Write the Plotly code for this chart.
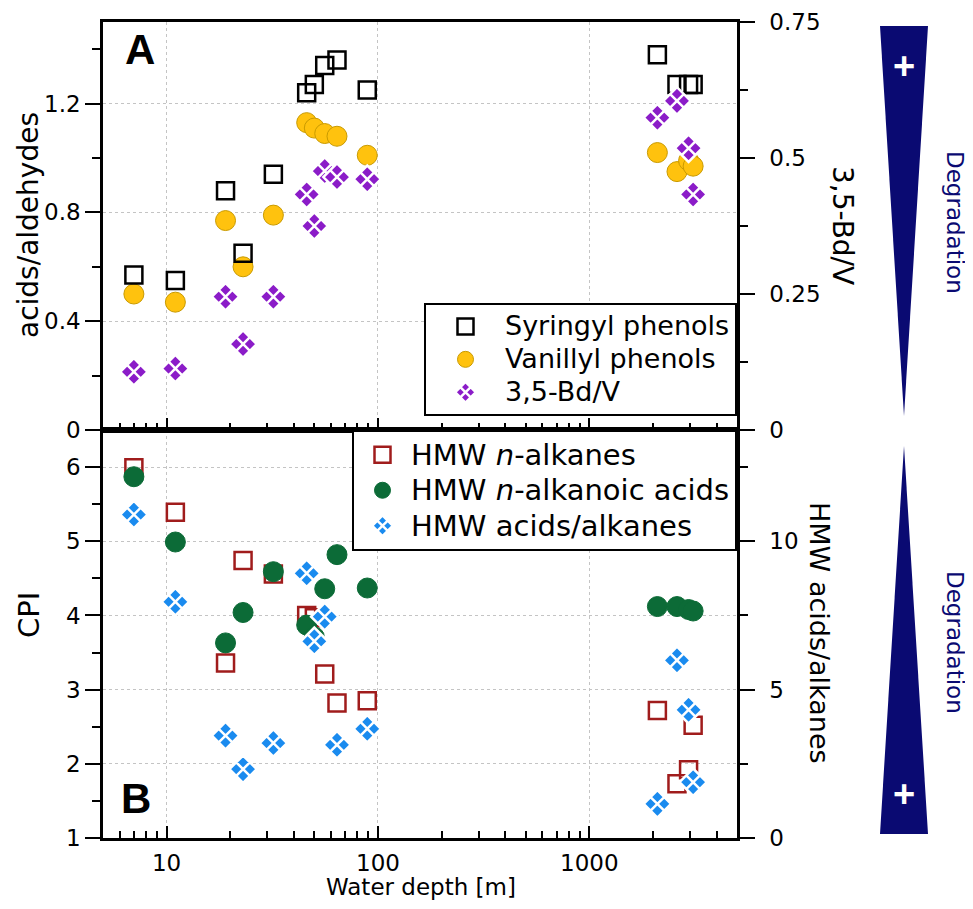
import plotly.graph_objects as go
import numpy as np

# ---------------- data ----------------
depth = [7, 11, 19, 23, 32, 46, 50, 56, 64, 89, 2100, 2600, 2950, 3100]

syringyl = [0.57, 0.55, 0.88, 0.65, 0.94, 1.24, 1.27, 1.34, 1.36, 1.25, 1.38, 1.27, 1.27, 1.27]
vanillyl = [0.50, 0.47, 0.77, 0.60, 0.79, 1.13, 1.11, 1.09, 1.08, 1.01, 1.02, 0.95, 0.99, 0.97]
bdv = [0.107, 0.113, 0.245, 0.158, 0.245, 0.433, 0.375, 0.476, 0.465, 0.461, 0.574, 0.605, 0.518, 0.433]

alkanes_cpi = [5.99, 5.39, 3.36, 4.74, 4.56, 4.00, 3.97, 3.21, 2.82, 2.85, 2.72, 1.73, 1.92, 2.52]
acids_cpi = [5.87, 4.99, 3.63, 4.04, 4.59, 3.87, 3.71, 4.36, 4.82, 4.37, 4.12, 4.12, 4.08, 4.06]
acids_alkanes = [10.9, 7.96, 3.45, 2.32, 3.20, 8.92, 6.63, 7.46, 3.14, 3.68, 1.15, 5.99, 4.32, 1.88]

series_names = ["Syringyl phenols", "Vanillyl phenols", "3,5-Bd/V",
                "HMW <i>n</i>-alkanes", "HMW <i>n</i>-alkanoic acids", "HMW acids/alkanes"]

x_tickvals = [10, 100, 1000]
x_ticktext = ["10", "100", "1000"]
x_minor = [m * 10 ** k for k in range(0, 4) for m in range(2, 10) if 5 <= m * 10 ** k <= 5000]

# ---------------- style ----------------
FONT = "DejaVu Sans"
BOLDFONT = "Liberation Sans"
BLACK = "#000000"
YELLOW = "#FFC20E"
PURPLE = "#8B1CC8"
RED = "#A01C1C"
GREEN = "#0C6B37"
BLUE = "#1A8BEF"
NAVY = "#0A0A72"
GRID = "#c4c4c4"

OFF = 8  # page body margin of the html page
W, H = 973 - OFF, 909 - OFF
L, R, T, B = 103 - OFF, 737 - OFF, 22 - OFF, 838 - OFF


def px(x):
    # screen pixel x -> paper coordinate
    return (x - OFF - L) / (R - L)


def py(y):
    # screen pixel y -> paper coordinate
    return (B - (y - OFF)) / (B - T)


def legname(s, size):
    return f'<span style="font-size:{size}px">{s}</span>'


fig = go.Figure()

# ---- top panel ----
fig.add_trace(go.Scatter(x=depth, y=vanillyl, mode="markers", name=legname(series_names[1], 27),
                         xaxis="x2", yaxis="y3", legend="legend", legendrank=2,
                         marker=dict(symbol="circle", size=20, color=YELLOW,
                                     line=dict(color="#C99A00", width=1))))
fig.add_trace(go.Scatter(x=depth, y=bdv, mode="markers", name=legname(series_names[2], 27),
                         xaxis="x2", yaxis="y4", legend="legend", legendrank=3,
                         marker=dict(symbol="diamond-x", size=21, color=PURPLE,
                                     line=dict(color="white", width=2.5))))
fig.add_trace(go.Scatter(x=depth, y=syringyl, mode="markers", name=legname(series_names[0], 27),
                         xaxis="x2", yaxis="y3", legend="legend", legendrank=1,
                         marker=dict(symbol="square-open", size=17, color=BLACK,
                                     line=dict(color=BLACK, width=2.5))))

# ---- bottom panel ----
fig.add_trace(go.Scatter(x=depth, y=alkanes_cpi, mode="markers", name=legname(series_names[3], 29),
                         xaxis="x", yaxis="y", legend="legend2", legendrank=1,
                         marker=dict(symbol="square-open", size=17, color=RED,
                                     line=dict(color=RED, width=2.5))))
fig.add_trace(go.Scatter(x=depth, y=acids_alkanes, mode="markers", name=legname(series_names[5], 29),
                         xaxis="x", yaxis="y2", legend="legend2", legendrank=3,
                         marker=dict(symbol="diamond-x", size=21, color=BLUE,
                                     line=dict(color="white", width=2.5))))
fig.add_trace(go.Scatter(x=depth, y=acids_cpi, mode="markers", name=legname(series_names[4], 29),
                         xaxis="x", yaxis="y", legend="legend2", legendrank=2,
                         marker=dict(symbol="circle", size=20, color=GREEN,
                                     line=dict(color=GREEN, width=1))))

tickfont = dict(family=FONT, size=23, color=BLACK)
xcommon = dict(type="log", range=[np.log10(5), np.log10(5000)],
               tickmode="array", tickvals=x_tickvals, ticktext=x_ticktext,
               ticks="inside", ticklen=12, tickwidth=2, tickcolor=BLACK,
               minor=dict(tickmode="array", tickvals=x_minor, ticks="inside", ticklen=7,
                          tickwidth=2, tickcolor=BLACK, showgrid=False),
               showline=True, linewidth=2.5, linecolor=BLACK, mirror=True,
               showgrid=True, gridcolor=GRID, griddash="dot", gridwidth=1,
               zeroline=False, tickfont=tickfont, automargin=False)

ycommon = dict(ticks="outside", ticklen=15, tickwidth=2, tickcolor=BLACK,
               showline=True, linewidth=2.5, linecolor=BLACK,
               zeroline=False, tickfont=tickfont, automargin=False)

fig.update_layout(
    width=W, height=H,
    margin=dict(l=L, r=W - R, t=T, b=H - B, autoexpand=False),
    paper_bgcolor="white", plot_bgcolor="white",
    font=dict(family=FONT, color=BLACK),
    xaxis=dict(**xcommon, anchor="y", domain=[0, 1], ticklabelstandoff=3),
    xaxis2=dict(**xcommon, anchor="y3", domain=[0, 1], matches="x", showticklabels=False),
    yaxis=dict(**ycommon, domain=[0, 0.5], range=[1, 6.5], anchor="x",
               tickmode="array", tickvals=[1, 2, 3, 4, 5, 6], mirror=False,
               minor=dict(tickmode="array", tickvals=[1.5, 2.5, 3.5, 4.5, 5.5],
                          ticks="outside", ticklen=8, tickwidth=2, tickcolor=BLACK, showgrid=False),
               showgrid=True, gridcolor=GRID, griddash="dot"),
    yaxis2=dict(**ycommon, range=[0, 13.75], overlaying="y", side="right", anchor="x",
                tickmode="array", tickvals=[0, 5, 10], showgrid=False, ticklabelstandoff=10,
                minor=dict(tickmode="array", tickvals=[2.5, 7.5, 12.5],
                           ticks="outside", ticklen=8, tickwidth=2, tickcolor=BLACK)),
    yaxis3=dict(**ycommon, domain=[0.5, 1], range=[0, 1.5], anchor="x2",
                tickmode="array", tickvals=[0, 0.4, 0.8, 1.2], mirror=False,
                minor=dict(tickmode="array", tickvals=[0.2, 0.6, 1.0, 1.4],
                           ticks="outside", ticklen=8, tickwidth=2, tickcolor=BLACK, showgrid=False),
                showgrid=True, gridcolor=GRID, griddash="dot"),
    yaxis4=dict(**ycommon, range=[0, 0.75], overlaying="y3", side="right", anchor="x2",
                tickmode="array", tickvals=[0, 0.25, 0.5, 0.75], ticktext=["0", "0.25", "0.5", "0.75"],
                showgrid=False, ticklabelstandoff=10,
                minor=dict(tickmode="array", tickvals=[0.125, 0.375, 0.625],
                           ticks="outside", ticklen=8, tickwidth=2, tickcolor=BLACK)),
    legend=dict(x=1, xanchor="right", y=py(416), yanchor="bottom",
                bgcolor="white", bordercolor=BLACK, borderwidth=2,
                font=dict(family=FONT, size=23, color=BLACK),
                itemsizing="trace", itemwidth=69, tracegroupgap=0),
    legend2=dict(x=1, xanchor="right", y=0.5, yanchor="top",
                 bgcolor="white", bordercolor=BLACK, borderwidth=2,
                 font=dict(family=FONT, size=25, color=BLACK),
                 itemsizing="trace", itemwidth=47, tracegroupgap=0),
    showlegend=True,
)


def note(text, x, y, size, color=BLACK, angle=0, family=FONT):
    return dict(text=text, x=px(x), y=py(y), xref="paper", yref="paper",
                xanchor="center", yanchor="middle", showarrow=False, textangle=angle,
                font=dict(family=family, size=size, color=color))


ann = [
    note("<b>A</b>", 140, 50, 42, family=BOLDFONT),
    note("<b>B</b>", 136, 798, 42, family=BOLDFONT),
    note("acids/aldehydes", 28, 225, 28, angle=-90),
    note("CPI", 29, 615, 29, angle=-90),
    note("3,5-Bd/V", 843, 225, 28, angle=90),
    note("HMW acids/alkanes", 820, 633, 27, angle=90),
    note("Water depth [m]", 421, 887, 23),
    note("Degradation", 955, 222, 23, color=NAVY, angle=90),
    note("Degradation", 955, 642, 23, color=NAVY, angle=90),
    note("<b>+</b>", 904, 66, 38, color="white", family=BOLDFONT),
    note("<b>+</b>", 904, 794, 38, color="white", family=BOLDFONT),
]
fig.update_layout(annotations=ann)

tri_top = f"M {px(880)},{py(26)} L {px(928)},{py(26)} L {px(904)},{py(416)} Z"
tri_bot = f"M {px(904)},{py(446)} L {px(880)},{py(834)} L {px(928)},{py(834)} Z"
fig.update_layout(shapes=[
    dict(type="path", path=tri_top, xref="paper", yref="paper", fillcolor=NAVY, line=dict(width=0)),
    dict(type="path", path=tri_bot, xref="paper", yref="paper", fillcolor=NAVY, line=dict(width=0)),
])

fig.write_html("out.html")
